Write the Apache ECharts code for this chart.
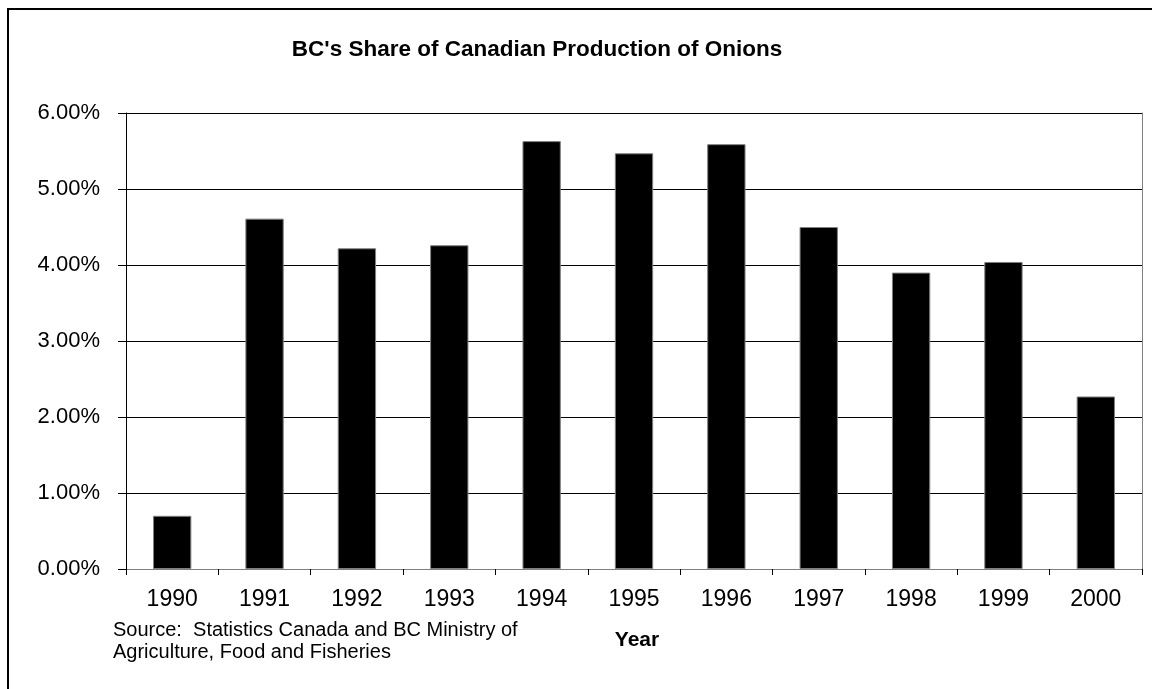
<!DOCTYPE html>
<html>
<head>
<meta charset="utf-8">
<script src="https://cdn.jsdelivr.net/npm/echarts@6/dist/echarts.min.js"></script>
<style>
  html, body { margin: 0; padding: 0; background: #fff; }
  #chart { width: 1152px; height: 689px; }
</style>
</head>
<body>
<div id="chart"></div>
<script>
// Data
var years  = ['1990', '1991', '1992', '1993', '1994', '1995', '1996', '1997', '1998', '1999', '2000'];
var shares = [0.70, 4.61, 4.22, 4.26, 5.63, 5.47, 5.59, 4.50, 3.90, 4.04, 2.27];
var yTicks = [0, 1, 2, 3, 4, 5, 6];

var titleText  = "BC's Share of Canadian Production of Onions";
var xName      = 'Year';
var sourceText = 'Source:  Statistics Canada and BC Ministry of\nAgriculture, Food and Fisheries';

var FONT = '"Liberation Sans", Arial, sans-serif';

var $chart = document.getElementById('chart');
var chart  = echarts.init($chart, null, {renderer: 'canvas'});

chart.setOption({
    animation: false,
    backgroundColor: '#fff',
    grid: {left: 126, right: 10, top: 113, bottom: 120, containLabel: false},
    xAxis: [
        {
            type: 'category',
            data: years,
            position: 'bottom',
            axisLine: {lineStyle: {color: '#000', width: 1}},
            axisTick: {show: true, alignWithLabel: false, length: 6, lineStyle: {color: '#000'}},
            axisLabel: {color: '#000', fontFamily: FONT, fontSize: 23, margin: 19, interval: 0},
            splitLine: {show: false}
        },
        {
            /* Top frame line of the plot area. */
            type: 'category',
            data: years,
            position: 'top',
            axisLine: {show: true, lineStyle: {color: '#808080', width: 1}},
            axisTick: {show: false},
            axisLabel: {show: false}
        }
    ],
    yAxis: [
        {
            type: 'value',
            min: yTicks[0],
            max: yTicks[yTicks.length - 1],
            interval: 1,
            axisLine: {show: true, lineStyle: {color: '#000', width: 1}},
            axisTick: {show: true, length: 8, lineStyle: {color: '#000'}},
            axisLabel: {
                color: '#000', fontFamily: FONT, fontSize: 22, margin: 26,
                formatter: function(v) { return v.toFixed(2) + '%'; }
            },
            splitLine: {show: true, lineStyle: {color: '#000', width: 1}}
        },
        {
            /* Right frame line of the plot area. */
            type: 'value',
            min: 0,
            max: 6,
            interval: 1,
            position: 'right',
            axisLine: {show: true, lineStyle: {color: '#808080', width: 1}},
            axisTick: {show: false},
            axisLabel: {show: false},
            splitLine: {show: false}
        }
    ],
    series: [{
        type: 'bar',
        data: shares,
        barWidth: '41.5%',
        itemStyle: {color: '#000', borderColor: '#808080', borderWidth: 1}
    }],
    graphic: [
        {
            type: 'rect',
            shape: {x: 8, y: 9, width: 1200, height: 720},
            style: {fill: 'none', stroke: '#000', lineWidth: 2},
            silent: true
        },
        {
            type: 'text',
            x: 537,
            y: 50,
            style: {
                text: titleText, fill: '#000', fontFamily: FONT, fontSize: 22.5, fontWeight: 'bold',
                align: 'center', verticalAlign: 'middle'
            }
        },
        {
            type: 'text',
            x: 637,
            y: 640,
            style: {
                text: xName, fill: '#000', fontFamily: FONT, fontSize: 21, fontWeight: 'bold',
                align: 'center', verticalAlign: 'middle'
            }
        },
        {
            type: 'text',
            x: 113,
            y: 619,
            style: {
                text: sourceText, fill: '#000', fontFamily: FONT, fontSize: 20, lineHeight: 22,
                align: 'left', verticalAlign: 'top'
            }
        }
    ]
});
</script>
</body>
</html>
